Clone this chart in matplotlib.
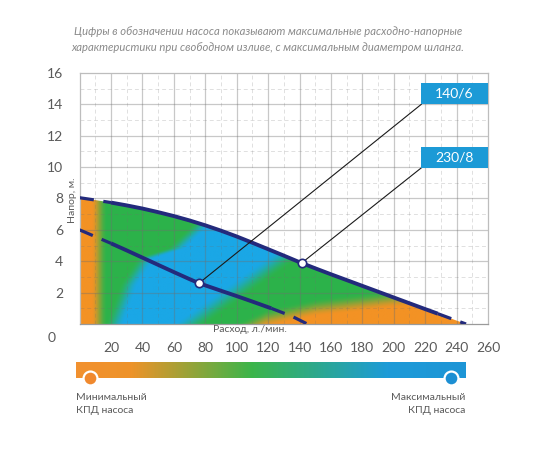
import numpy as np
import matplotlib
matplotlib.use("Agg")
import matplotlib.pyplot as plt
from matplotlib.colors import LinearSegmentedColormap
from matplotlib.patches import Rectangle, Polygon
from matplotlib.lines import Line2D

plt.rcParams["font.family"] = ["Lato", "DejaVu Sans"]

# pump curves (flow l/min, head m)
upper_x = [0, 10, 20, 30, 40, 50, 60, 70, 80, 90, 100, 110, 120, 130, 140,
           150, 160, 170, 180, 190, 200, 210, 220, 228, 238, 246]
upper_y = [8.05, 7.9, 7.74, 7.56, 7.36, 7.13, 6.88, 6.6, 6.29, 5.95, 5.58, 5.18,
           4.77, 4.36, 3.94, 3.55, 3.17, 2.8, 2.43, 2.06, 1.69, 1.32, 0.95,
           0.66, 0.29, 0.0]
upper_solid = (20, 228)

lower_x = [0, 10, 20, 30, 40, 50, 60, 70, 76, 90, 100, 110, 122, 135, 145]
lower_y = [6.0, 5.57, 5.14, 4.69, 4.23, 3.77, 3.31, 2.86, 2.6, 2.12, 1.78,
           1.43, 1.0, 0.5, 0.0]
lower_solid = (20, 122)

names = ["140/6", "230/8"]
points = [(76, 2.6), (141.5, 3.9)]
box_y = [14.0, 9.95]

x_ticks = [20, 40, 60, 80, 100, 120, 140, 160, 180, 200, 220, 240, 260]
y_ticks = [2, 4, 6, 8, 10, 12, 14, 16]

# efficiency zones
blue_left_y = [0, 2.5, 4.2, 4.8, 6.4, 8.2]       # left edge of the blue zone
blue_left_x = [21, 30, 41, 60, 77, 92]
blue_right = (70, 14.0)                          # x = a + b*y, lower-right edge
orange_x = [0, 95, 118, 150, 200, 250]           # top edge of the orange zone
orange_y = [-3, -1.0, 0.1, 0.8, 1.35, 1.6]

title = ("Цифры в обозначении насоса показывают максимальные расходно-напорные\n"
         "характеристики при свободном изливе, с максимальным диаметром шланга.")

navy = "#232a7c"
grey_txt = "#5a5a5a"
cmap = LinearSegmentedColormap.from_list(
    "eff", [(0, "#f39224"), (0.5, "#2db34a"), (1, "#1aa7e6")])
bar_cmap = LinearSegmentedColormap.from_list(
    "bar", [(0, "#f29130"), (0.14, "#ee9329"), (0.45, "#3cb54a"), (0.8, "#1d9bd8"),
            (1, "#1d95d6")])


def smooth(v, a, b):
    t = np.clip((v - a) / (b - a), 0, 1)
    return t * t * (3 - 2 * t)


fig = plt.figure(figsize=(5.5, 4.5), dpi=100)
ax = fig.add_axes([79.6 / 550, 1 - 324 / 450, (488 - 79.6) / 550, (324 - 73) / 450])
ax.set_xlim(0, 260)
ax.set_ylim(0, 16)

# colour field clipped under upper curve
gx = np.linspace(0, 260, 521)
gy = np.linspace(0, 8.2, 247)
X, Y = np.meshgrid(gx, gy)
xb = np.interp(Y, blue_left_y, blue_left_x)
rise = smooth(X - xb, -5, 7)
fall = 1 - smooth(X - (blue_right[0] + blue_right[1] * Y), -11, 11)
E = 0.5 + 0.5 * rise * fall
yo = np.interp(X, orange_x, orange_y)
E = E * smooth(Y, yo - 0.35, yo + 0.8)
E = E * smooth(X, 7, 17)
im = ax.imshow(E, extent=(0, 260, 0, 8.2), origin="lower", cmap=cmap,
               vmin=0, vmax=1, aspect="auto", interpolation="bilinear", zorder=1)
clip = Polygon(list(zip(upper_x, upper_y)) + [(0, 0)], closed=True,
               transform=ax.transData)
im.set_clip_path(clip)

# grid over the fill
for gxv in range(10, 260, 10):
    if gxv % 20 == 0:
        ax.axvline(gxv, color="#6f6f6f", alpha=0.38, lw=0.9, zorder=2)
    else:
        ax.axvline(gxv, color="#6f6f6f", alpha=0.22, lw=0.7, ls=(0, (4, 3)), zorder=2)
for gyv in range(1, 16):
    if gyv % 2 == 0:
        ax.axhline(gyv, color="#6f6f6f", alpha=0.38, lw=0.9, zorder=2)
    else:
        ax.axhline(gyv, color="#6f6f6f", alpha=0.22, lw=0.7, ls=(0, (4, 3)), zorder=2)
for sp in ax.spines.values():
    sp.set_color("#bdbdbd")
    sp.set_linewidth(0.9)
ax.spines["bottom"].set_color("#9a9a9a")


def draw_curve(xs, ys, solid):
    xs = np.array(xs)
    ys = np.array(ys)
    a, b = solid
    m = (xs >= a) & (xs <= b)
    ax.plot(xs[m], ys[m], color=navy, lw=2.8, solid_capstyle="butt", zorder=4)
    for m2 in (xs <= a, xs >= b):
        ax.plot(xs[m2], ys[m2], color=navy, lw=2.3, ls=(0, (4.5, 3)), zorder=4)


draw_curve(upper_x, upper_y, upper_solid)
draw_curve(lower_x, lower_y, lower_solid)

# leader lines, markers and labels
for name, (px, py), by in zip(names, points, box_y):
    ax.plot([px, 217.5], [py, by], color="#1a1a1a", lw=0.8, zorder=5)
    ax.plot(px, py, "o", ms=6, mfc="white", mec=navy, mew=1.2, zorder=6)
    ax.add_patch(Rectangle((217.5, by), 260 - 217.5, 1.36, facecolor="#1c9ad6",
                           edgecolor="none", zorder=6, clip_on=False))
    ax.text((217.5 + 260) / 2, by + 0.68, name, color="white", fontsize=10,
            ha="center", va="center", zorder=7)

ax.set_xticks(x_ticks)
ax.set_yticks(y_ticks)
ax.tick_params(length=0, labelsize=10, labelcolor=grey_txt)
ax.tick_params(axis="x", pad=13)
ax.tick_params(axis="y", pad=12)
ax.text(-15, -0.9, "0", fontsize=10, color=grey_txt, ha="right", va="center")
ax.text(85, -0.35, "Расход, л./мин.", fontsize=7.5, color=grey_txt,
        ha="left", va="center")
ax.text(-4.5, 7.9, "Напор, м.", fontsize=7.5, color=grey_txt, rotation=90,
        ha="center", va="center")

fig.text(0.487, 0.912, title, fontsize=8.1, style="italic", color="#8a8a8a",
         ha="center", va="center", linespacing=1.55)

# efficiency colour bar
cax = fig.add_axes([75.7 / 550, 1 - 378.3 / 450, (465 - 75.7) / 550, 16 / 450])
cax.imshow(np.linspace(0, 1, 256)[None, :], cmap=bar_cmap, aspect="auto",
           extent=(0, 1, 0, 1))
cax.set_axis_off()
for cx, col in [(90, "#f0892e"), (451, "#1c8fd3")]:
    fig.add_artist(Line2D([cx / 550], [1 - 378.3 / 450], transform=fig.transFigure,
                          marker="o", ms=10, mfc=col, mec="white", mew=1.6, zorder=6))
fig.text(76 / 550, 1 - 404 / 450, "Минимальный\nКПД насоса", fontsize=7.5,
         color=grey_txt, ha="left", va="center", linespacing=1.5)
fig.text(465 / 550, 1 - 404 / 450, "Максимальный\nКПД насоса", fontsize=7.5,
         color=grey_txt, ha="right", va="center", linespacing=1.5, multialignment="right")

fig.savefig("out.png", dpi=100)
